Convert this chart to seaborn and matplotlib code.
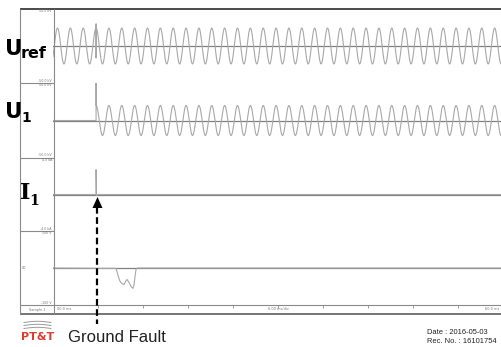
import numpy as np
import pandas as pd
import matplotlib
matplotlib.use('Agg')
import matplotlib.pyplot as plt
import seaborn as sns

# --- values ---
T_END = 700.0            # ms shown across the 10 divisions
DT = 0.1                 # ms sampling
FREQ = 50.0              # Hz
T_FAULT = 67.0           # ms, fault instant

UREF_AMP = 97.0          # kV peak
UREF_SPIKE = [119.0, -65.0]
U1_AMP = 80.0            # kV peak after fault
U1_SPIKE = 200.0
I1_SPIKE = [3.4, 0.0, -0.15, 0.0]
I1_SPIKE_T = [67.0, 67.6, 68.5, 70.0]

DIP_T = [98.0, 101.1, 104.2, 107.3, 110.4, 113.6, 115.1, 118.2, 121.3, 124.4, 126.0, 127.6, 129.1, 130.7]
DIP_V = [-1, -20, -36, -42, -45, -34, -31, -39, -50, -55, -45, -23, -4, 0]

V_RANGE = 200.0
I_RANGE = 5.0
P4_RANGE = 100.0

SCALE_LABELS = ['50.0 kV', '-50.0 kV', '50.0 kV', '-50.0 kV', '4.0 kA', '-4.0 kA', '100 V', '-100 V']

# --- build the traces ---
t = np.arange(0, T_END + DT, DT)
wave = np.cos(2 * np.pi * FREQ * (t - T_FAULT) / 1000.0)

uref_t = np.concatenate([t[t <= T_FAULT], [T_FAULT, T_FAULT], t[t > T_FAULT]])
uref_v = np.concatenate([UREF_AMP * wave[t <= T_FAULT], UREF_SPIKE, UREF_AMP * wave[t > T_FAULT]])
uref = pd.DataFrame({'t': uref_t, 'v': uref_v})

u1_t = np.concatenate([t[t < T_FAULT], [T_FAULT, T_FAULT], t[t > T_FAULT]])
u1_v = np.concatenate([np.zeros((t < T_FAULT).sum()), [0.0, U1_SPIKE], U1_AMP * wave[t > T_FAULT]])
u1 = pd.DataFrame({'t': u1_t, 'v': u1_v})

i1 = pd.DataFrame({'t': [0.0, T_FAULT] + I1_SPIKE_T + [T_END],
                   'v': [0.0, 0.0] + I1_SPIKE + [0.0]})

p4 = pd.DataFrame({'t': [0.0] + DIP_T + [T_END], 'v': [0.0] + DIP_V + [0.0]})

# --- figure in pixel layout ---
W, H = 502, 347
fig = plt.figure(figsize=(W / 100, H / 100), dpi=100)
fig.patch.set_facecolor('white')

def px_axes(x0, y0, x1, y1):
    return fig.add_axes([x0 / W, 1 - y1 / H, (x1 - x0) / W, (y1 - y0) / H])

WAVE_C = '#a8a8a8'
AXIS_C = '#808080'
FRAME_C = '#8a8a8a'

panels = [
    (uref, 9, 83, V_RANGE),
    (u1, 83, 158, V_RANGE),
    (i1, 158, 231, I_RANGE),
    (p4, 231, 305, P4_RANGE),
]
for df, y0, y1, rng in panels:
    ax = px_axes(53, y0, 503, y1)
    ax.set_facecolor('none')
    ax.axhline(0, color=AXIS_C, lw=0.9, zorder=1)
    sns.lineplot(data=df, x='t', y='v', ax=ax, color=WAVE_C, lw=0.8,
                 estimator=None, sort=False, zorder=2)
    ax.set_xlim(0, T_END)
    ax.set_ylim(-rng, rng)
    ax.set_axis_off()

# --- frame, labels and annotations overlay ---
ov = fig.add_axes([0, 0, 1, 1])
ov.set_xlim(0, W)
ov.set_ylim(H, 0)
ov.set_axis_off()
ov.patch.set_alpha(0)

ov.hlines(9, 20, W, color='#3c3c3c', lw=1.3)
ov.hlines([305], 20, W, color=FRAME_C, lw=0.8)
ov.hlines([314], 20, W, color='#505050', lw=1.1)
ov.hlines([83, 158, 231], 20, 54, color=FRAME_C, lw=0.8)
ov.vlines([20, 54], 9, 314, color=FRAME_C, lw=0.8)

# bottom time axis ticks
tick_x = np.linspace(53, 503, 11)
ov.vlines(tick_x[1:-1], 305, 307.5, color=FRAME_C, lw=0.6)
ov.text(278, 309.5, '6.00 ms/div', fontsize=2.5, color='#777', ha='center', va='center')
ov.text(57, 309.5, '00.0 ms', fontsize=2.5, color='#777', ha='left', va='center')
ov.text(499, 309.5, '60.0 ms', fontsize=2.5, color='#777', ha='right', va='center')
ov.text(37, 309.5, 'Sample 1', fontsize=2.5, color='#777', ha='center', va='center')
ov.text(22, 268, '00', fontsize=2.5, color='#777', ha='left', va='center')

scale_y = [11, 81, 85, 155, 160, 229, 233, 303]
for y, s in zip(scale_y, SCALE_LABELS):
    ov.text(52, y, s, fontsize=2.3, color='#777', ha='right', va='center')

# channel names
ov.text(5, 55, 'U', fontsize=15.5, fontweight='heavy', color='black', va='baseline')
ov.text(21, 57.5, 'ref', fontsize=11.5, fontweight='heavy', color='black', va='baseline')
ov.text(5, 118, 'U', fontsize=15.5, fontweight='heavy', color='black', va='baseline')
ov.text(21, 122, '1', fontsize=10, fontweight='heavy', color='black', va='baseline')
ov.text(20, 199, 'I', fontsize=16, fontweight='bold', family='DejaVu Serif', color='black', va='baseline')
ov.text(29.5, 204.5, '1', fontsize=10, fontweight='bold', family='DejaVu Serif', color='black', va='baseline')

# ground fault arrow
ov.plot([97.5, 97.5], [207, 324], color='black', lw=1.6, ls=(0, (3, 1.6)))
ov.fill([92.5, 102.5, 97.5], [208, 208, 197], color='black', lw=0)

# logo
for k, yy in enumerate([322.5, 325.5, 328.5]):
    xs = np.linspace(24, 51, 30)
    ov.plot(xs, yy - 1.2 * np.sin(np.linspace(0, np.pi, 30)), color='#9a9a9a', lw=0.7)
ov.text(37.5, 337.5, 'PT&T', fontsize=8, fontweight='heavy', color='#e03a2f',
        ha='center', va='center')

ov.text(68, 342, 'Ground Fault', fontsize=12, family='Liberation Sans', color='#222', va='baseline')
ov.text(427, 333.5, 'Date : 2016-05-03', fontsize=5.4, family='Liberation Sans', color='#222', va='baseline')
ov.text(427, 343, 'Rec. No. : 16101754', fontsize=5.4, family='Liberation Sans', color='#222', va='baseline')

fig.savefig('out.png', dpi=100, facecolor='white')
